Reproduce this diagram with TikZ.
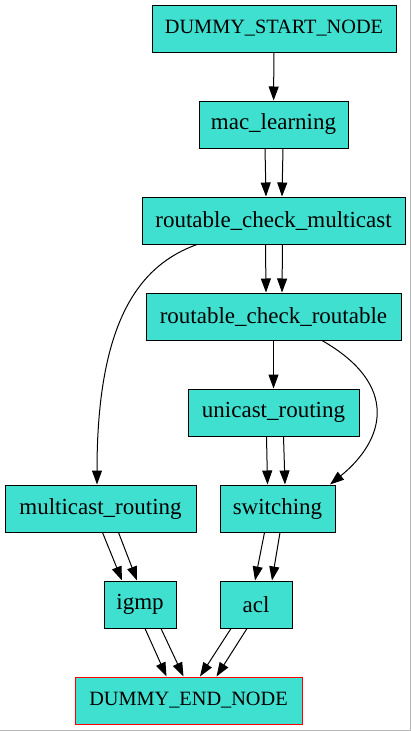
\documentclass[tikz,border=0pt]{standalone}
\usepackage{fontspec}
\setmainfont{Liberation Serif}
\usepackage{tikz}
\usetikzlibrary{arrows.meta}
\definecolor{turq}{RGB}{64, 224, 208}
\definecolor{framegray}{RGB}{180, 180, 180}
\newcommand\nodefont{\rmfamily\fontsize{23}{27}\selectfont}
\newcommand\dummyfont{\rmfamily\fontsize{20.3}{24}\selectfont}
\tikzset{
    block/.style={draw=black, fill=turq, line width=1pt, minimum height=47pt, inner sep=0pt, font=\nodefont},
    dummy/.style={block, font=\dummyfont},
    edge/.style={-{Triangle[length=14pt, width=10pt]}, line width=1pt},
}

\begin{document}
\begin{tikzpicture}[x=1pt, y=-1pt]
    \useasboundingbox (0,0) rectangle (411,731);

    % Frame (right and bottom)
    \draw[framegray, line width=1pt] (410.5,0) -- (410.5,730.5) -- (0,730.5);

    % Nodes
    \node[dummy, minimum width=244pt] (dstart) at (274,28.5) {DUMMY\_START\_NODE};
    \node[block, minimum width=149pt] (mac) at (273.5,124.5) {mac\_learning};
    \node[block, minimum width=263pt] (rcm) at (273.5,220.5) {routable\_check\_multicast};
    \node[block, minimum width=255pt] (rcr) at (273.5,316.5) {routable\_check\_routable};
    \node[block, minimum width=171pt] (uni) at (273.5,412.5) {unicast\_routing};
    \node[block, minimum width=191pt] (mcr) at (100.5,508.5) {multicast\_routing};
    \node[block, minimum width=115pt] (sw) at (277.5,508.5) {switching};
    \node[block, minimum width=72pt] (igmp) at (140,604.5) {igmp};
    \node[block, minimum width=72pt] (acl) at (256,604.5) {acl};
    \node[dummy, draw=red, minimum width=227pt] (dend) at (188.5,700.5) {DUMMY\_END\_NODE};

    % Single edges
    \draw[edge] (dstart) -- (mac);
    \draw[edge] (rcr) -- (uni);

    % Double edges (source/target/shifts)
    \foreach \a/\b/\sa/\ta/\sb/\tb in {
        mac/rcm/-8.5/-7.5/9.5/8.5,
        rcm/rcr/-8/-7.5/9/8.5,
        uni/sw/-7/-10/10/7.5,
        mcr/igmp/2/-18/18/-3,
        sw/acl/-13/-1/2.5/16,
        igmp/dend/5/-22/21/-5,
        acl/dend/-25/11.5/-9/28} {
        \draw[edge] ([xshift=\sa]\a.south) -- ([xshift=\ta]\b.north);
        \draw[edge] ([xshift=\sb]\a.south) -- ([xshift=\tb]\b.north);
    }

    % Curved edges
    \draw[edge] ([xshift=-76.5]rcm.south) .. controls (140,265) and (97,320) .. ([xshift=-3.5]mcr.north);
    \draw[edge] ([xshift=48.5]rcr.south) .. controls (400,385) and (385,440) .. ([xshift=52.5]sw.north);
\end{tikzpicture}
\end{document}
